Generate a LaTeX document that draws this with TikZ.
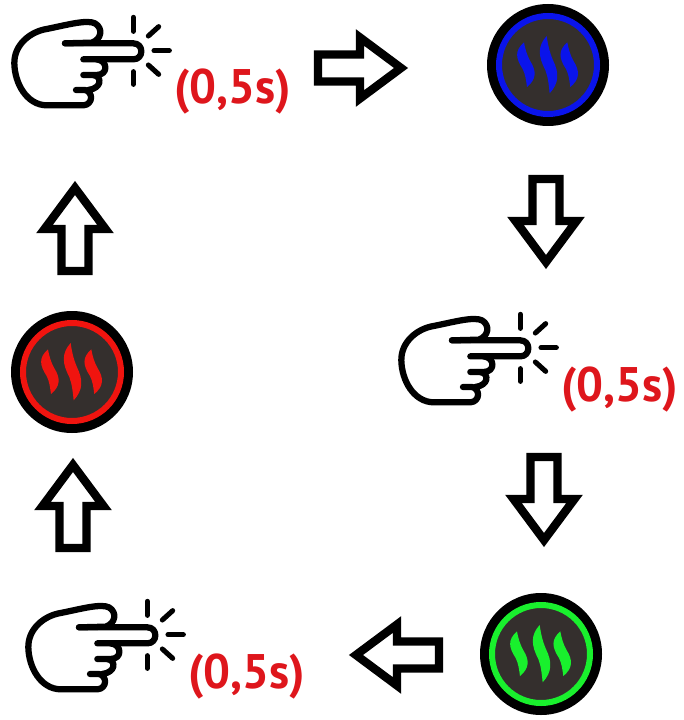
\documentclass[tikz,border=0pt]{standalone}
\usepackage{fontspec}
\setmainfont{PT Sans}
\definecolor{txtred}{RGB}{222,22,28}
\definecolor{disc}{RGB}{52,47,45}
\definecolor{ledblue}{RGB}{10,20,235}
\definecolor{ledred}{RGB}{240,20,15}
\definecolor{ledgreen}{RGB}{25,240,45}
\tikzset{
  handline/.style={line width=4.7pt,line cap=round,line join=round,draw=black},
  sparkline/.style={line width=3.8pt,line cap=round,draw=black},
  pics/hand/.style={code={
    \begin{scope}[x=0.25pt,y=-0.25pt]
      \draw[handline] (195,70) -- (275,68) .. controls (305,58) and (310,25) .. (285,10) .. controls (260,-2) and (200,15) .. (140,27) .. controls (90,35) and (42,75) .. (43,130) .. controls (44,190) and (80,255) .. (140,256) -- (250,256) .. controls (280,254) and (280,215) .. (255,210) -- (228,210);
      \draw[handline] (195,70) -- (400,70) .. controls (432,70) and (432,118) .. (400,118) -- (250,118);
      \draw[handline] (290,118) .. controls (325,122) and (325,165) .. (290,165) -- (250,165);
      \draw[handline] (280,165) .. controls (308,170) and (305,205) .. (265,210);
      \draw[sparkline] (400,-8) -- (400,34);
      \draw[sparkline] (445,48) -- (476,20);
      \draw[sparkline] (462,92) -- (508,92);
      \draw[sparkline] (445,135) -- (476,163);
      \draw[sparkline] (400,155) -- (400,193);
      \node[anchor=base west,text=txtred,font=\bfseries\fontsize{36.4}{36.4}\selectfont,inner sep=0pt] at (522,252) {\scalebox{0.98}[1]{(0,5s)}};
    \end{scope}
  }},
  pics/blockarrow/.style={code={
    \draw[line width=6.3pt,line join=miter,miter limit=10,draw=black,fill=white]
      (-43,-13.5) -- (-1,-13.5) -- (-1,-30.5) -- (40,0) -- (-1,30.5) -- (-1,13.5) -- (-43,13.5) -- cycle;
  }},
  pics/steem/.style={code={
    \fill[black] (0,0) circle (61);
    \fill[disc] (0,0) circle (49);
    \draw[#1,line width=4.5pt] (0,0) circle (49);
    \begin{scope}[x=0.25pt,y=-0.25pt]
      \foreach \dx/\h in {-68/0.78,0/1,62/0.78}{
        \begin{scope}[shift={(\dx,0)},yscale=\h,xscale=0.82]
          \fill[#1] (-5,-87) .. controls (-40,-55) and (-35,-25) .. (-10,15) .. controls (0,35) and (3,60) .. (6,85) .. controls (40,55) and (42,25) .. (18,-15) .. controls (5,-40) and (0,-60) .. (-5,-87) -- cycle;
        \end{scope}
      }
    \end{scope}
  }},
}
\begin{document}
\begin{tikzpicture}[x=0.75pt,y=-0.75pt]
\useasboundingbox (0,0) rectangle (683,720);
\pic (handA) at (0,20) {hand};
\pic (handB) at (387,317) {hand};
\pic (handC) at (14,604) {hand};
\pic (ledBlue) at (548,65) {steem=ledblue};
\pic (ledRed) at (72,372) {steem=ledred};
\pic (ledGreen) at (541,654) {steem=ledgreen};
\pic[rotate=0] (arrowA) at (361,68) {blockarrow};
\pic[rotate=-90] (arrowB) at (546,222) {blockarrow};
\pic[rotate=-90] (arrowC) at (544,500) {blockarrow};
\pic[rotate=180] (arrowD) at (396,655) {blockarrow};
\pic[rotate=90] (arrowE) at (73,505) {blockarrow};
\pic[rotate=90] (arrowF) at (75,228) {blockarrow};
\end{tikzpicture}
\end{document}
